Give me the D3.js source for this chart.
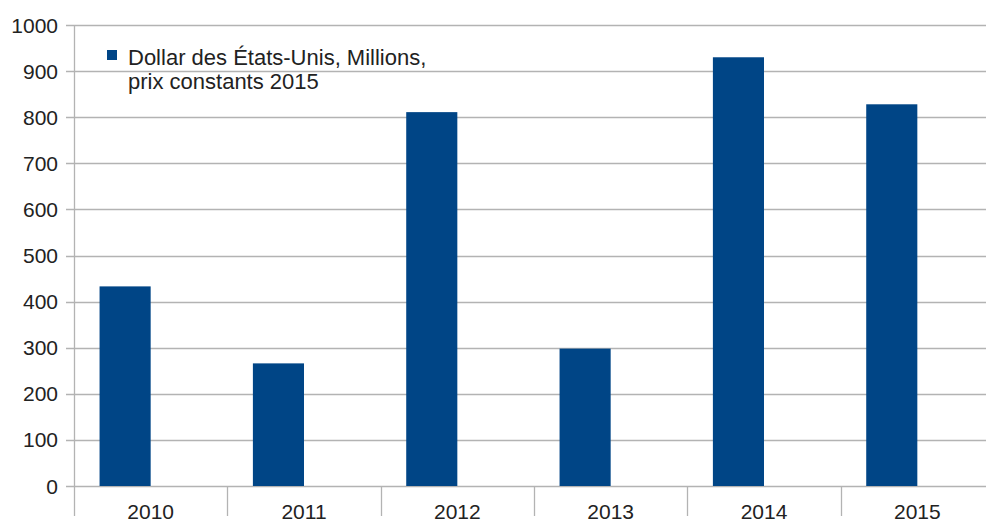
<!DOCTYPE html>
<html>
<head>
<meta charset="utf-8">
<script src="https://cdn.jsdelivr.net/npm/d3@7"></script>
<style>
  body { margin: 0; background: #fff; }
  text { font-family: "Liberation Sans", Arial, sans-serif; fill: #222; }
</style>
</head>
<body>
<svg id="chart" width="986" height="524"></svg>
<script>
// data
const years = ['2010', '2011', '2012', '2013', '2014', '2015']
const values = [433, 266, 811, 298, 930, 828]
const yTicks = [0, 100, 200, 300, 400, 500, 600, 700, 800, 900, 1000]
const seriesName = ['Dollar des États-Unis, Millions,', 'prix constants 2015']

const svg = d3.select('#chart')
const plotLeft = 74, plotRight = 994, plotTop = 25, plotBottom = 486
const barColour = '#004586'
const gridColour = '#b3b3b3'

const x = d3.scaleBand()
    .domain(years)
    .range([plotLeft, plotRight])
    .paddingInner(0)
    .paddingOuter(0)

// two slots per category, the bar sits in the first one (like the original)
const slot = d3.scaleBand()
    .domain(['a', 'b'])
    .range([0, x.bandwidth()])
    .paddingInner(0)
    .paddingOuter(0.5)

const y = d3.scaleLinear()
    .domain([0, 1000])
    .range([plotBottom, plotTop])

// grid lines
svg.append('g')
    .selectAll('line')
    .data(yTicks)
    .enter()
    .append('line')
    .attr('x1', plotLeft - 8)
    .attr('x2', plotRight)
    .attr('y1', d => Math.round(y(d)) + 0.5)
    .attr('y2', d => Math.round(y(d)) + 0.5)
    .style('stroke', gridColour)
    .style('stroke-width', 1.3)

// y axis line
svg.append('line')
    .attr('x1', plotLeft + 0.5).attr('x2', plotLeft + 0.5)
    .attr('y1', y(1000)).attr('y2', y(0))
    .style('stroke', gridColour)
    .style('stroke-width', 1.3)

// y labels
svg.append('g')
    .selectAll('text')
    .data(yTicks)
    .enter()
    .append('text')
    .attr('x', 58)
    .attr('y', d => y(d))
    .attr('dy', '0.36em')
    .attr('text-anchor', 'end')
    .style('font-size', '21px')
    .text(d => d)

// x category ticks
svg.append('g')
    .selectAll('line')
    .data(years)
    .enter()
    .append('line')
    .attr('x1', d => Math.round(x(d)) + 0.5)
    .attr('x2', d => Math.round(x(d)) + 0.5)
    .attr('y1', y(0))
    .attr('y2', y(0) + 30)
    .style('stroke', gridColour)
    .style('stroke-width', 1.3)

// bars
svg.append('g')
    .selectAll('rect')
    .data(values)
    .enter()
    .append('rect')
    .attr('x', (d, i) => x(years[i]) + slot('a'))
    .attr('width', slot.bandwidth())
    .attr('y', d => y(d))
    .attr('height', d => y(0) - y(d))
    .style('fill', barColour)

// x labels
svg.append('g')
    .selectAll('text')
    .data(years)
    .enter()
    .append('text')
    .attr('x', d => x(d) + x.bandwidth() / 2)
    .attr('y', 519)
    .attr('text-anchor', 'middle')
    .style('font-size', '21px')
    .text(d => d)

// legend
const legend = svg.append('g')
legend.append('rect')
    .attr('x', 107).attr('y', 50)
    .attr('width', 10).attr('height', 10)
    .style('fill', barColour)
legend.selectAll('text')
    .data(seriesName)
    .enter()
    .append('text')
    .attr('x', 128)
    .attr('y', (d, i) => 65 + i * 24)
    .style('font-size', '22px')
    .text(d => d)
</script>
</body>
</html>
